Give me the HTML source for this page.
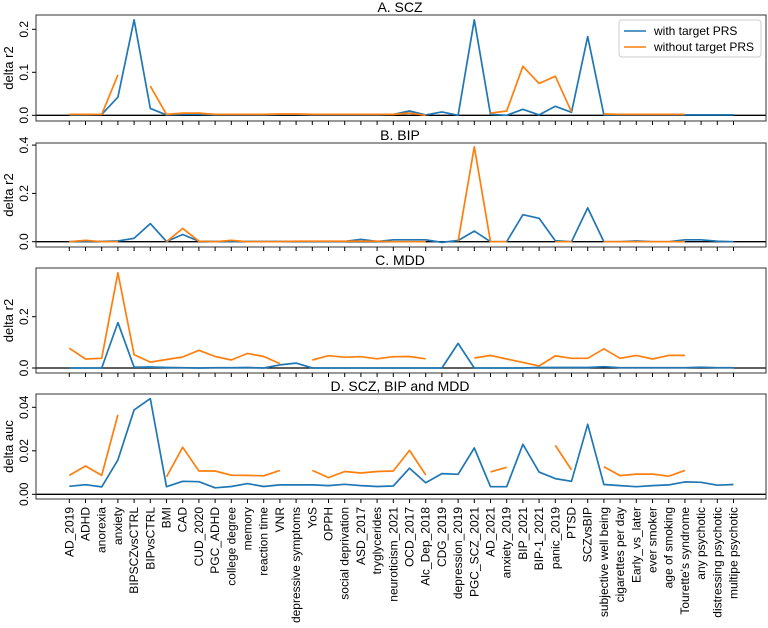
<!DOCTYPE html>
<html><head><meta charset="utf-8"><style>
body{margin:0;background:#fff}
svg{display:block}
text{font-family:"Liberation Sans",sans-serif;fill:#000}
</style></head><body>
<svg id="chart" width="768" height="628" xmlns="http://www.w3.org/2000/svg"></svg>
<script>
const categories=["AD_2019","ADHD","anorexia","anxiety","BIPSCZvsCTRL","BIPvsCTRL","BMI","CAD","CUD_2020","PGC_ADHD","college degree","memory","reaction time","VNR","depressive symptoms","YoS","OPPH","social deprivation","ASD_2017","tryglycerides","neuroticism_2021","OCD_2017","Alc_Dep_2018","CDG_2019","depression_2019","PGC_SCZ_2021","AD_2021","anxiety_2019","BIP_2021","BIP-1_2021","panic_2019","PTSD","SCZvsBIP","subjective well being","cigarettes per day","Early_vs_later","ever smoker","age of smoking","Tourette's syndrome","any psychotic","distressing psychotic","multipe psychotic"];
const N=null;
const sczWith=[0.001,0.001,0.002,0.042,0.222,0.016,0.001,0.002,0.002,0.001,0.001,0.001,0.001,0.002,0.002,0.001,0.001,0.001,0.001,0.001,0.002,0.010,0.001,0.008,0.000,0.222,0.002,0.000,0.014,0.001,0.021,0.007,0.183,0.001,0.001,0.001,0.001,0.001,0.001,0.001,0.001,0.001];
const sczWithout=[0.002,0.002,0.002,0.094,N,0.068,0.002,0.005,0.005,0.002,0.002,0.002,0.002,0.003,0.003,0.002,0.002,0.002,0.002,0.002,0.002,0.005,0.000,N,N,N,0.005,0.010,0.114,0.074,0.091,0.008,N,0.003,0.002,0.002,0.002,0.002,0.002,N,N,N];
const bipWith=[0.000,0.002,0.001,0.003,0.014,0.075,0.001,0.030,0.002,0.001,0.001,0.001,0.001,0.001,0.001,0.001,0.001,0.001,0.010,0.001,0.008,0.008,0.008,-0.003,0.005,0.044,0.000,0.000,0.112,0.097,0.004,0.000,0.140,0.000,0.000,0.003,0.000,0.000,0.008,0.008,0.002,0.000];
const bipWithout=[0.000,0.006,0.000,0.000,N,N,0.000,0.055,0.002,0.000,0.006,0.000,0.000,0.000,0.002,0.002,0.002,0.002,0.002,0.002,0.000,0.000,0.000,N,0.002,0.393,0.000,0.000,N,N,0.000,0.000,N,0.000,0.000,0.000,0.000,0.000,0.000,N,N,N];
const mddWith=[0.000,0.000,0.000,0.177,0.003,0.004,0.002,0.001,0.000,0.001,0.001,0.002,0.000,0.012,0.019,0.000,0.000,0.000,0.000,0.000,0.000,0.000,0.000,0.000,0.096,0.000,0.000,0.000,0.000,0.002,0.002,0.002,0.002,0.005,0.001,0.001,0.001,0.001,0.001,0.003,0.001,0.001];
const mddWithout=[0.077,0.035,0.038,0.371,0.052,0.023,0.033,0.043,0.069,0.045,0.031,0.057,0.045,0.017,N,0.031,0.048,0.042,0.044,0.036,0.044,0.045,0.036,N,N,0.039,0.049,0.035,0.022,0.008,0.047,0.038,0.038,0.075,0.038,0.049,0.035,0.049,0.049,N,N,N];
const allWith=[0.0037,0.0044,0.0034,0.0158,0.0388,0.044,0.0035,0.006,0.0058,0.003,0.0036,0.0049,0.0036,0.0043,0.0043,0.0043,0.004,0.0046,0.004,0.0036,0.0038,0.012,0.0053,0.0095,0.0092,0.0213,0.0035,0.0035,0.023,0.0102,0.0072,0.006,0.0322,0.0045,0.004,0.0035,0.004,0.0043,0.0057,0.0055,0.0042,0.0045];
const allWithout=[0.0087,0.013,0.0087,0.0365,N,N,0.008,0.0216,0.0107,0.0107,0.0088,0.0087,0.0085,0.011,N,0.011,0.0077,0.0105,0.0098,0.0105,0.0107,0.0202,0.0089,N,N,N,0.0103,0.0124,N,N,0.0225,0.0112,N,0.0127,0.0086,0.0093,0.0093,0.0083,0.011,N,N,N];
const yTicksA=[0,0.1,0.2], yTicksB=[0,0.2,0.4], yTicksC=[0,0.2], yTicksD=[0,0.02,0.04];
const labelsA=["0.0","0.1","0.2"], labelsB=["0.0","0.2","0.4"], labelsC=["0.0","0.2"], labelsD=["0.00","0.02","0.04"];

const svg=document.getElementById('chart');
const NS='http://www.w3.org/2000/svg';
function mk(tag,attrs,parent){const e=document.createElementNS(NS,tag);for(const k in attrs)e.setAttribute(k,attrs[k]);(parent||svg).appendChild(e);return e;}
const X0=36,X1=766;
function xs(i){return 69.3+16.2*i;}
const panels=[
 {key:'scz',title:'A. SCZ',top:15,bot:121,y0:115.3,ppu:430,w:sczWith,wo:sczWithout,ticks:yTicksA,labs:labelsA,ylab:'delta r2'},
 {key:'bip',title:'B. BIP',top:143,bot:247,y0:241.7,ppu:241.5,w:bipWith,wo:bipWithout,ticks:yTicksB,labs:labelsB,ylab:'delta r2'},
 {key:'mdd',title:'C. MDD',top:268,bot:373,y0:368,ppu:256.5,w:mddWith,wo:mddWithout,ticks:yTicksC,labs:labelsC,ylab:'delta r2'},
 {key:'combined',title:'D. SCZ, BIP and MDD',top:394,bot:499,y0:494.3,ppu:2175,w:allWith,wo:allWithout,ticks:yTicksD,labs:labelsD,ylab:'delta auc'}
];
function path(vals,ys){let d='',pen=false;vals.forEach((v,i)=>{if(v===null){pen=false;return;}d+=(pen?'L':'M')+xs(i).toFixed(1)+' '+ys(v).toFixed(1)+' ';pen=true;});return d;}
panels.forEach(p=>{
 const g=mk('g',{});
 
 
 const ys=v=>p.y0-v*p.ppu;
 const t=mk('text',{x:400,y:p.top-3,'text-anchor':'middle','font-size':14},g);t.textContent=p.title;
 
 const zl=mk('line',{x1:X0,x2:X1,y1:p.y0,y2:p.y0,stroke:'#000','stroke-width':1.3},g);
 
 const l1=mk('path',{d:path(p.w,ys),fill:'none',stroke:'#1f77b4','stroke-width':1.7,'stroke-linejoin':'round'},g);
 
 const l2=mk('path',{d:path(p.wo,ys),fill:'none',stroke:'#ff7f0e','stroke-width':1.7,'stroke-linejoin':'round'},g);
 
 const box=mk('rect',{x:X0,y:p.top,width:X1-X0,height:p.bot-p.top,fill:'none',stroke:'#333','stroke-width':1},g);
 
 p.ticks.forEach((tv,k)=>{
  const y=ys(tv);
  mk('line',{x1:X0-4,x2:X0,y1:y,y2:y,stroke:'#000'},g);
  const tl=mk('text',{x:0,y:0,'font-size':12,'text-anchor':'middle',transform:`translate(${X0-8},${y}) rotate(-90)`},g);
  tl.textContent=p.labs[k];
  
 });
 categories.forEach((c,i)=>{mk('line',{x1:xs(i),x2:xs(i),y1:p.bot,y2:p.bot+4,stroke:'#000'},g);});
 const yl=mk('text',{x:0,y:0,'font-size':13,'text-anchor':'middle',transform:`translate(13,${(p.top+p.bot)/2}) rotate(-90)`},g);
 yl.textContent=p.ylab;
 
});
categories.forEach((c,i)=>{
 const t=mk('text',{x:0,y:0,'font-size':12,'text-anchor':'end',transform:`translate(${xs(i)+4},507) rotate(-90)`});
 t.textContent=c;
 
 
});
const lg=mk('g',{});


mk('rect',{x:619,y:20,width:142,height:37,rx:3,fill:'#fff',stroke:'#ccc'},lg);
mk('line',{x1:624,x2:646,y1:31,y2:31,stroke:'#1f77b4','stroke-width':1.6},lg);
mk('line',{x1:624,x2:646,y1:47,y2:47,stroke:'#ff7f0e','stroke-width':1.6},lg);
const e1=mk('text',{x:654,y:35,'font-size':12},lg);e1.textContent='with target PRS';

const e2=mk('text',{x:654,y:51,'font-size':12},lg);e2.textContent='without target PRS';

</script>
</body></html>
